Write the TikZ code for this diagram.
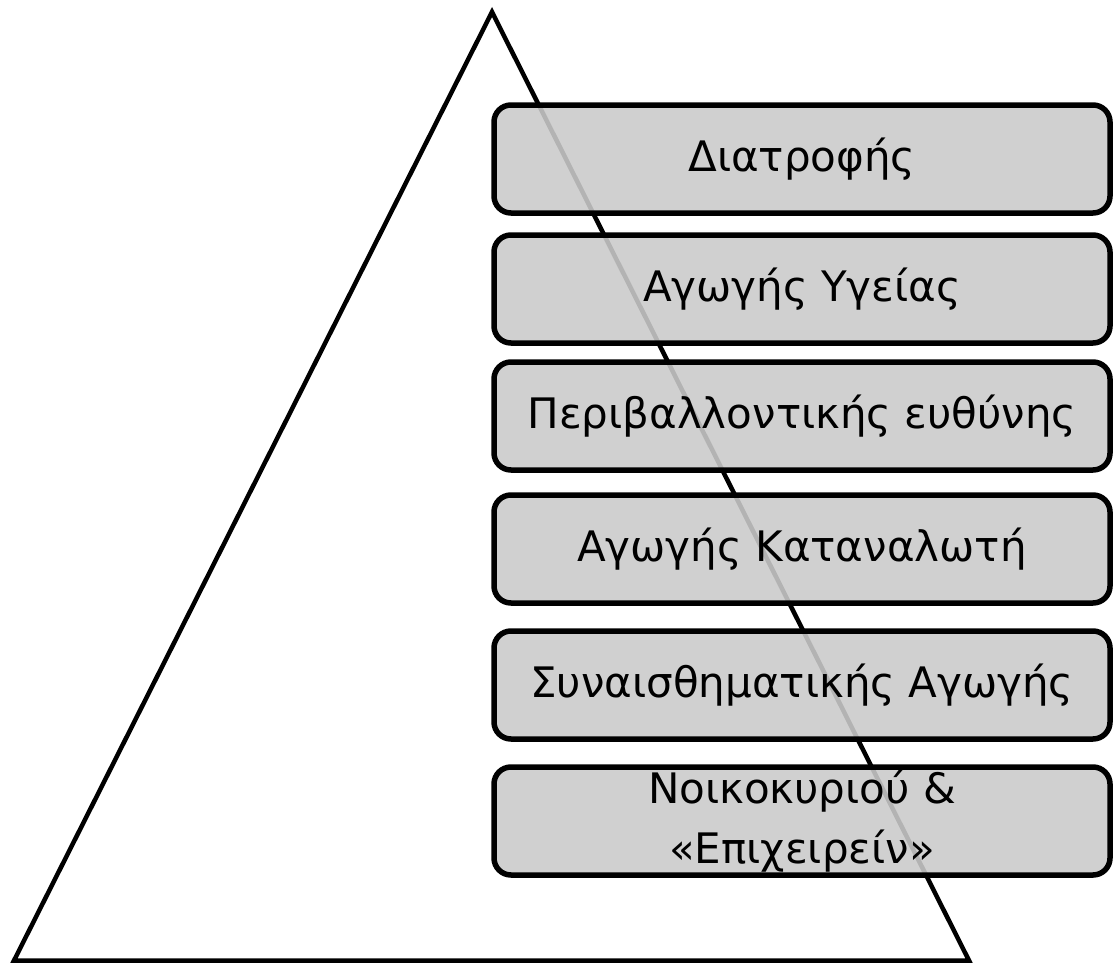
\documentclass[tikz,border=0pt]{standalone}
\usepackage{fontspec}
\setmainfont{DejaVu Sans}
\definecolor{boxgray}{RGB}{202,202,202}
\begin{document}
\begin{tikzpicture}[x = 1pt, y = -1pt,
    level/.style = {draw=black, line width=5.5pt, fill=boxgray, fill opacity=0.89,
        text opacity=1, rounded corners=17pt, minimum width=616pt, minimum height=108pt,
        inner sep=0pt, align=center, font=\fontsize{42}{60}\selectfont}]
    \useasboundingbox (0,0) rectangle (1116,966);
    \draw[line width=4.5pt] (492,12) -- (969,960.5) -- (14,960.5) -- cycle;
    \node[level] (diatrofi) at (802,159) {Διατροφής};
    \node[level] (ygeia) at (802,289) {Αγωγής Υγείας};
    \node[level] (perivallon) at (802,416) {Περιβαλλοντικής ευθύνης};
    \node[level] (katanalotis) at (802,549) {Αγωγής Καταναλωτή};
    \node[level] (synaisthima) at (802,685) {Συναισθηματικής Αγωγής};
    \node[level] (noikokyrio) at (802,821) {Νοικοκυριού \&\\«Επιχειρείν»};
\end{tikzpicture}
\end{document}
